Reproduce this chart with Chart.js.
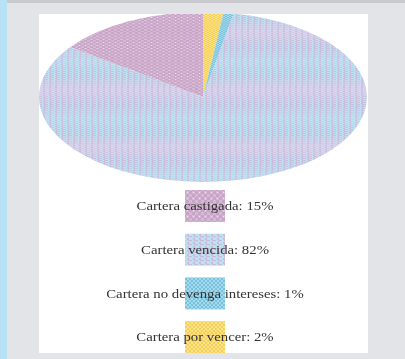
<!DOCTYPE html>
<html>
<head>
<meta charset="utf-8">
<script src="https://cdn.jsdelivr.net/npm/chart.js@4"></script>
<style>
  html, body { margin: 0; padding: 0; }
  body { width: 405px; height: 359px; background: #e3e4e7; position: relative; overflow: hidden; }
  #topband { position: absolute; left: 0; top: 0; width: 405px; height: 3px; background: #c9cacd; }
  #strip { position: absolute; left: 0; top: 0; width: 7px; height: 359px; background: #b6e1f7; }
  #panel { position: absolute; left: 39px; top: 14px; width: 329px; height: 339px; background: #fff; }
  #panel canvas { display: block; }
</style>
</head>
<body>
<div id="topband"></div>
<div id="strip"></div>
<div id="panel"><canvas id="pieChart" width="329" height="339"></canvas></div>
<script>
// Legend order
const categories = ['Cartera castigada', 'Cartera vencida', 'Cartera no devenga intereses', 'Cartera por vencer'];
const shares = [15, 82, 1, 2];

// Dithered fills, one per category
function makePattern(w, h, paint) {
    const c = document.createElement('canvas');
    c.width = w; c.height = h;
    paint(c.getContext('2d'));
    return c.getContext('2d').createPattern(c, 'repeat');
}
const fills = [
    makePattern(6, 6, function(g) {
        g.fillStyle = '#c7a5c6'; g.fillRect(0, 0, 6, 6);
        g.fillStyle = '#d6b7d4'; g.fillRect(0, 0, 3, 3); g.fillRect(3, 3, 3, 3);
        g.fillStyle = '#ece2ee'; g.fillRect(4, 4, 1, 1);
    }),
    makePattern(6, 4, function(g) {
        g.fillStyle = '#c8bbdd'; g.fillRect(0, 0, 6, 4);
        g.fillStyle = '#bde2f0'; g.fillRect(0, 0, 4, 2); g.fillRect(3, 2, 2, 1);
        g.fillStyle = '#d7d0ea'; g.fillRect(0, 3, 6, 1);
    }),
    makePattern(4, 4, function(g) {
        g.fillStyle = '#77c2df'; g.fillRect(0, 0, 4, 4);
        g.fillStyle = '#a5d9ec'; g.fillRect(0, 0, 2, 2); g.fillRect(2, 2, 2, 2);
    }),
    makePattern(4, 4, function(g) {
        g.fillStyle = '#f6d052'; g.fillRect(0, 0, 4, 4);
        g.fillStyle = '#fbe28c'; g.fillRect(0, 0, 2, 2); g.fillRect(2, 2, 2, 2);
    })
];

// Slices run counter-clockwise from the top, so feed them reversed
const order = [3, 2, 1, 0];

const pieCenterY = 83;
const squash = 0.518;

// Flatten the pie into an ellipse
const ellipsePlugin = {
    id: 'ellipse',
    beforeDatasetsDraw(chart) {
        const a = chart.chartArea;
        const cx = (a.left + a.right) / 2, cy = (a.top + a.bottom) / 2;
        const ctx = chart.ctx;
        ctx.save();
        ctx.translate(cx, pieCenterY);
        ctx.scale(1, squash);
        ctx.translate(-cx, -cy);
    },
    afterDatasetsDraw(chart) {
        chart.ctx.restore();
    }
};

// Stacked legend with the swatch sitting behind each label
const legendPlugin = {
    id: 'stackLegend',
    afterDraw(chart) {
        const ctx = chart.ctx;
        const x = 166;
        ctx.save();
        categories.forEach(function(name, i) {
            const top = 176 + i * 43.7;
            ctx.fillStyle = fills[i];
            ctx.fillRect(x - 20, top, 40, 32);
            ctx.save();
            ctx.translate(x, top + 17);
            ctx.scale(1.23, 1);
            ctx.font = '12px "Liberation Serif"';
            ctx.textAlign = 'center';
            ctx.textBaseline = 'middle';
            ctx.fillStyle = '#333333';
            ctx.fillText(name + ': ' + shares[i] + '%', 0, 0);
            ctx.restore();
        });
        ctx.restore();
    }
};

const ctx = document.getElementById('pieChart').getContext('2d');
const pieChart = new Chart(ctx, {
    type: 'pie',
    data: {
        labels: order.map(i => categories[i]),
        datasets: [{
            data: order.map(i => shares[i]),
            backgroundColor: order.map(i => fills[i]),
            borderWidth: 0
        }]
    },
    options: {
        responsive: false,
        animation: false,
        layout: { padding: { left: 0, right: 1, top: 0, bottom: 11 } },
        plugins: { legend: { display: false }, tooltip: { enabled: false } }
    },
    plugins: [ellipsePlugin, legendPlugin]
});
</script>
</body>
</html>
